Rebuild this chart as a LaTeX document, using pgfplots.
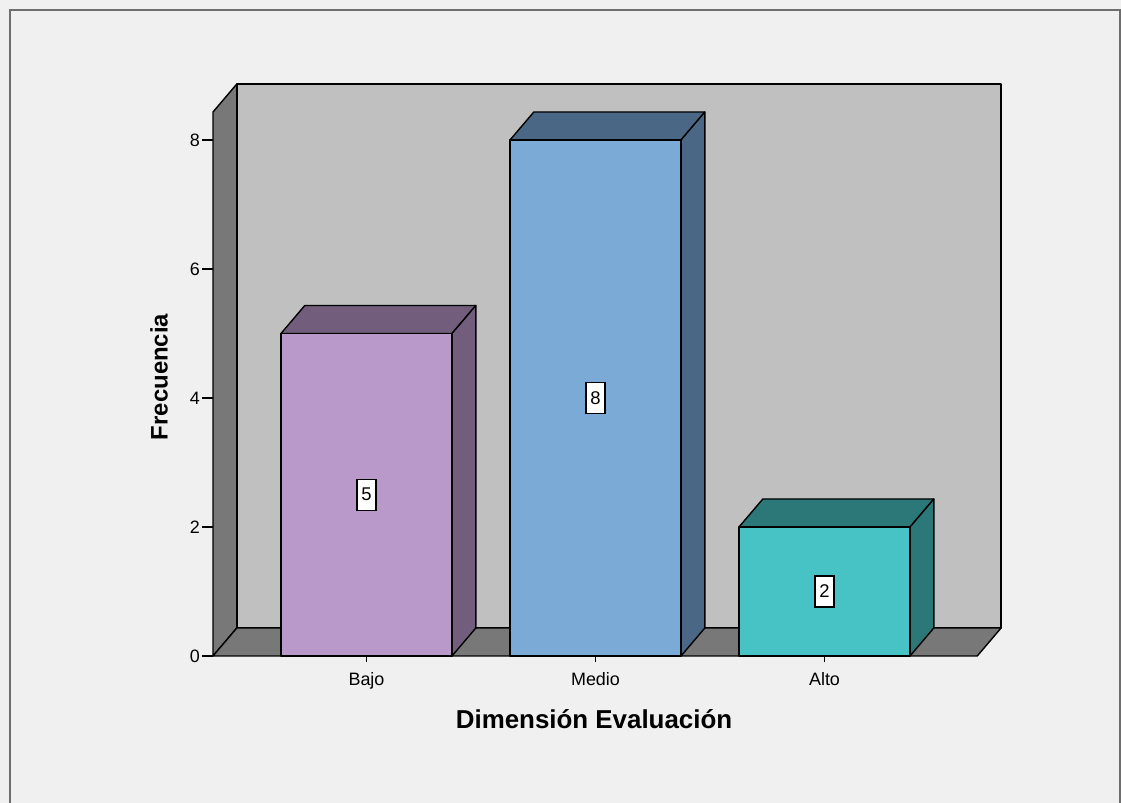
\documentclass[border=0pt]{standalone}
\usepackage{pgfplots}
\pgfplotsset{compat=1.18}
\usepackage{fontspec}
\setmainfont{Liberation Sans}

\definecolor{bgc}{HTML}{F0F0F0}
\definecolor{framec}{HTML}{6E6E6E}
\definecolor{backwall}{HTML}{C0C0C0}
\definecolor{sidewall}{HTML}{787878}
\definecolor{bajoF}{HTML}{B899C9}
\definecolor{bajoS}{HTML}{725E7C}
\definecolor{medioF}{HTML}{7BAAD6}
\definecolor{medioS}{HTML}{4A6886}
\definecolor{altoF}{HTML}{48C3C5}
\definecolor{altoS}{HTML}{2C7777}

% depth of the 3-D effect, in data units
\newcommand\dx{0.104}
\newcommand\dy{0.434}
\newcommand\hw{0.3734}

% one 3-D bar: position, frequency, face colour, shade colour
\newcommand\cuboid[4]{%
  \pgfmathsetmacro\xl{#1-\hw}%
  \pgfmathsetmacro\xr{#1+\hw}%
  \pgfmathsetmacro\xlb{\xl+\dx}%
  \pgfmathsetmacro\xrb{\xr+\dx}%
  \pgfmathsetmacro\ytb{#2+\dy}%
  \pgfmathsetmacro\half{#2/2}%
  \addplot[fill=#4, draw=black, line width=1.4bp, line join=round]
    coordinates {(\xl,#2) (\xr,#2) (\xrb,\ytb) (\xlb,\ytb)} -- cycle;
  \addplot[fill=#4, draw=black, line width=1.4bp, line join=round]
    coordinates {(\xr,0) (\xrb,\dy) (\xrb,\ytb) (\xr,#2)} -- cycle;
  \addplot[fill=#3, draw=black, line width=1.4bp, line join=round]
    coordinates {(\xl,0) (\xr,0) (\xr,#2) (\xl,#2)} -- cycle;
  \addplot[draw=none, mark=none, nodes near coords, point meta=explicit symbolic,
    nodes near coords align={anchor=center},
    every node near coord/.append style={anchor=center, draw=black, fill=white,
      line width=1.4bp, inner sep=0pt, minimum width=19bp, minimum height=31bp,
      font=\fontsize{18.5}{20}\selectfont}]
    coordinates {(#1,\half) [#2]};
}

\begin{document}
\begin{tikzpicture}[x=1bp,y=1bp]
\useasboundingbox (0,0) rectangle (1121,803);
\fill[bgc] (0,0) rectangle (1121,803);
\draw[framec, line width=2bp] (10,-3) -- (10,793) -- (1120,793) -- (1120,-3);

\begin{axis}[
  at={(213bp,147bp)}, anchor=south west,
  scale only axis, x=229bp, y=64.5bp,
  xmin=-0.6703, xmax=2.771, ymin=0, ymax=8.868,
  clip=false,
  axis line style={draw=none},
  tick align=outside, tick pos=left,
  major tick length=11bp,
  ytick={0,2,4,6,8},
  xtick={0,1,2}, xticklabels={Bajo,Medio,Alto},
  y tick style={black, line width=1.4bp},
  x tick style={draw=none},
  minor tick num=0,
  /pgf/number format/assume math mode=true,
  yticklabel style={font=\fontsize{18}{20}\selectfont, inner sep=2bp},
  xticklabel style={font=\fontsize{18}{20}\selectfont, anchor=north, inner sep=0pt, yshift=-5bp},
  xlabel={Dimensión Evaluación},
  ylabel={Frecuencia},
  xlabel style={font=\bfseries\fontsize{26}{28}\selectfont, at={(axis description cs:0.4835,-0.1276)}, anchor=base},
  ylabel style={font=\bfseries\fontsize{24}{26}\selectfont, at={(axis description cs:-0.0685,0.4878)}, anchor=center},
]
% back wall, left wall and floor
\addplot[fill=backwall, draw=black, line width=1.4bp, line join=round]
  coordinates {(-0.5663,0.434) (2.771,0.434) (2.771,8.868) (-0.5663,8.868)} -- cycle;
\addplot[fill=sidewall, draw=black, line width=1.4bp, line join=round]
  coordinates {(-0.6703,0) (-0.5663,0.434) (-0.5663,8.868) (-0.6703,8.434)} -- cycle;
\addplot[fill=sidewall, draw=black, line width=1.4bp, line join=round]
  coordinates {(-0.6703,0) (2.667,0) (2.771,0.434) (-0.5663,0.434)} -- cycle;

\cuboid{0}{5}{bajoF}{bajoS}
\cuboid{1}{8}{medioF}{medioS}
\cuboid{2}{2}{altoF}{altoS}

\pgfplotsinvokeforeach{0,1,2}{\draw[line width=1.4bp] (axis cs:#1,0) -- ++(0pt,-6bp);}
\end{axis}
\end{tikzpicture}
\end{document}
